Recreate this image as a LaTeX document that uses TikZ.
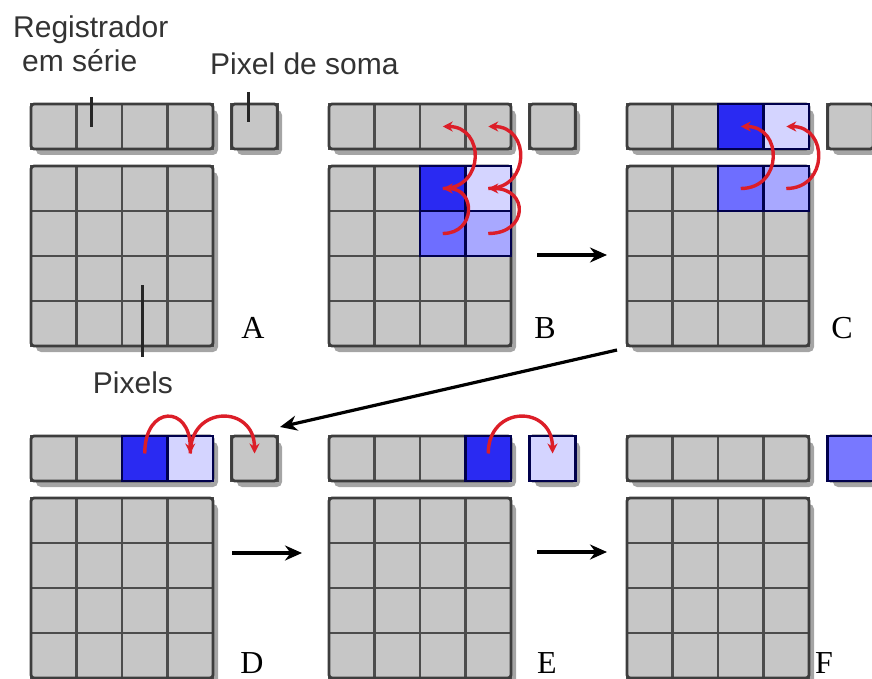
\documentclass[tikz,border=0pt]{standalone}
\usepackage{fontspec}
\setmainfont{Liberation Serif}
\newfontfamily\labelfont{Liberation Sans}
\usetikzlibrary{positioning, arrows.meta}

\definecolor{cellgray}{HTML}{C6C6C6}
\definecolor{cellline}{HTML}{4C4C4C}
\definecolor{dkblue}{HTML}{2A2AF2}
\definecolor{mdblue}{HTML}{6E6EFF}
\definecolor{ltblue}{HTML}{A8A8FF}
\definecolor{lavender}{HTML}{D4D4FF}
\definecolor{sumblue}{HTML}{7878FF}
\definecolor{arrowred}{HTML}{DC1E28}

\begin{document}
\begin{tikzpicture}[
    x=1pt, y=1pt,
    cell/.style={rectangle, draw=cellline, line width=2.6pt, fill=cellgray,
        minimum width=45.5pt, minimum height=45pt, inner sep=0pt, outer sep=0pt},
    blockrim/.style={draw=cellline!80!black, line width=2.8pt, rounded corners=3pt},
    blockshadow/.style={fill=black!70, opacity=0.5, rounded corners=5pt},
    hot/.style={draw=blue!30!black, line width=2.6pt},
    transfer/.style={-{Stealth[length=10pt, width=10pt]}, line width=3.4pt, draw=arrowred},
    nextarrow/.style={-{Stealth[length=17pt, width=15pt]}, line width=3.2pt},
    caption/.style={font=\labelfont\fontsize{30}{36}\selectfont, text=black!80, inner sep=0pt},
    panlabel/.style={font=\fontsize{32}{36}\selectfont, inner sep=0pt},
    pointer/.style={line width=3pt, draw=black!85}
]
\useasboundingbox (0,0) rectangle (872,-679);

% Six panels: serial register, summing pixel and 4x4 pixel grid
\foreach \p/\x/\y in {A/31/104, B/329/104, C/627/104, D/31/436, E/329/436, F/627/436} {
  % shadows
  \fill[blockshadow] (\x+5,-\y-6) rectangle (\x+187,-\y-51);
  \fill[blockshadow] (\x+206,-\y-6) rectangle (\x+251,-\y-51);
  \fill[blockshadow] (\x+5,-\y-68) rectangle (\x+187,-\y-248);
  % register and summing pixel
  \foreach \i in {1,...,4}
    \node[cell] (\p-r\i) at ({\x+45.5*\i-22.75},{-\y-22.5}) {};
  \node[cell] (\p-s) at ({\x+223.5},{-\y-22.5}) {};
  % pixel grid
  \foreach \r in {1,...,4}
    \foreach \c in {1,...,4}
      \node[cell] (\p-g\r\c) at ({\x+45.5*\c-22.75},{-\y-39.5-45*\r}) {};
  \draw[blockrim] (\p-r1.north west) rectangle (\p-r4.south east);
  \draw[blockrim] (\p-s.north west) rectangle (\p-s.south east);
  \draw[blockrim] (\p-g11.north west) rectangle (\p-g44.south east);
}

% B: charge moves up in the two columns
\draw[hot, fill=dkblue] (B-g13.south west) rectangle (B-g13.north east);
\draw[hot, fill=lavender] (B-g14.south west) rectangle (B-g14.north east);
\draw[hot, fill=mdblue] (B-g23.south west) rectangle (B-g23.north east);
\draw[hot, fill=ltblue] (B-g24.south west) rectangle (B-g24.north east);
\draw[transfer] (B-g23.center) to[out=0, in=0, looseness=1.9] (B-g13.center);
\draw[transfer] (B-g13.center) to[out=0, in=0, looseness=1.75] (B-r3.center);
\draw[transfer] (B-g24.center) to[out=0, in=0, looseness=2.3] (B-g14.center);
\draw[transfer] (B-g14.center) to[out=0, in=0, looseness=1.75] (B-r4.center);

% C: top row into the register
\draw[hot, fill=dkblue] (C-r3.south west) rectangle (C-r3.north east);
\draw[hot, fill=lavender] (C-r4.south west) rectangle (C-r4.north east);
\draw[hot, fill=mdblue] (C-g13.south west) rectangle (C-g13.north east);
\draw[hot, fill=ltblue] (C-g14.south west) rectangle (C-g14.north east);
\draw[transfer] (C-g13.center) to[out=0, in=0, looseness=1.75] (C-r3.center);
\draw[transfer] (C-g14.center) to[out=0, in=0, looseness=1.75] (C-r4.center);

% D: register shifts toward the summing pixel
\draw[hot, fill=dkblue] (D-r3.south west) rectangle (D-r3.north east);
\draw[hot, fill=lavender] (D-r4.south west) rectangle (D-r4.north east);
\draw[transfer] ([yshift=5pt]D-r3.center) to[out=90, in=90, looseness=2.75] ([yshift=5pt]D-r4.center);
\draw[transfer] ([yshift=5pt]D-r4.center) to[out=90, in=90, looseness=1.95] ([yshift=5pt]D-s.center);

% E
\draw[hot, fill=dkblue] (E-r4.south west) rectangle (E-r4.north east);
\draw[hot, fill=lavender] (E-s.south west) rectangle (E-s.north east);
\draw[transfer] ([yshift=5pt]E-r4.center) to[out=90, in=90, looseness=1.95] ([yshift=5pt]E-s.center);

% F
\draw[hot, fill=sumblue] (F-s.south west) rectangle (F-s.north east);

% Steps between panels
\coordinate (BC-from) at (537,-255);
\coordinate (BC-to) at (607,-255);
\coordinate (CD-from) at (617,-350);
\coordinate (CD-to) at (280,-427);
\coordinate (DE-from) at (232,-553);
\coordinate (DE-to) at (302,-553);
\coordinate (EF-from) at (537,-552);
\coordinate (EF-to) at (607,-552);
\draw[nextarrow] (BC-from) -- (BC-to);
\draw[nextarrow] (CD-from) -- (CD-to);
\draw[nextarrow] (DE-from) -- (DE-to);
\draw[nextarrow] (EF-from) -- (EF-to);

% Panel letters
\node[panlabel, anchor=base] (A-lab) at (253,-338) {A};
\node[panlabel, anchor=base] (B-lab) at (545,-338) {B};
\node[panlabel, anchor=base] (C-lab) at (842,-338) {C};
\node[panlabel, anchor=base] (D-lab) at (252,-673) {D};
\node[panlabel, anchor=base] (E-lab) at (547,-673) {E};
\node[panlabel, anchor=base] (F-lab) at (824,-673) {F};

% Captions and their pointers
\node[caption, anchor=base west] (reg-lab1) at (13,-38) {Registrador};
\node[caption, anchor=base west] (reg-lab2) at (22,-72) {em série};
\node[caption, anchor=base west] (sum-lab) at (210,-75) {Pixel de soma};
\node[caption, anchor=base] (pix-lab) at (133,-393) {Pixels};
\coordinate (reg-top) at (91,-97);
\coordinate (reg-tip) at (91,-127);
\coordinate (sum-top) at (248,-92);
\coordinate (sum-tip) at (248,-122);
\coordinate (pix-top) at (142,-285);
\coordinate (pix-tip) at (142,-357);
\draw[pointer] (reg-top) -- (reg-tip);
\draw[pointer] (sum-top) -- (sum-tip);
\draw[pointer] (pix-top) -- (pix-tip);

\end{tikzpicture}
\end{document}
